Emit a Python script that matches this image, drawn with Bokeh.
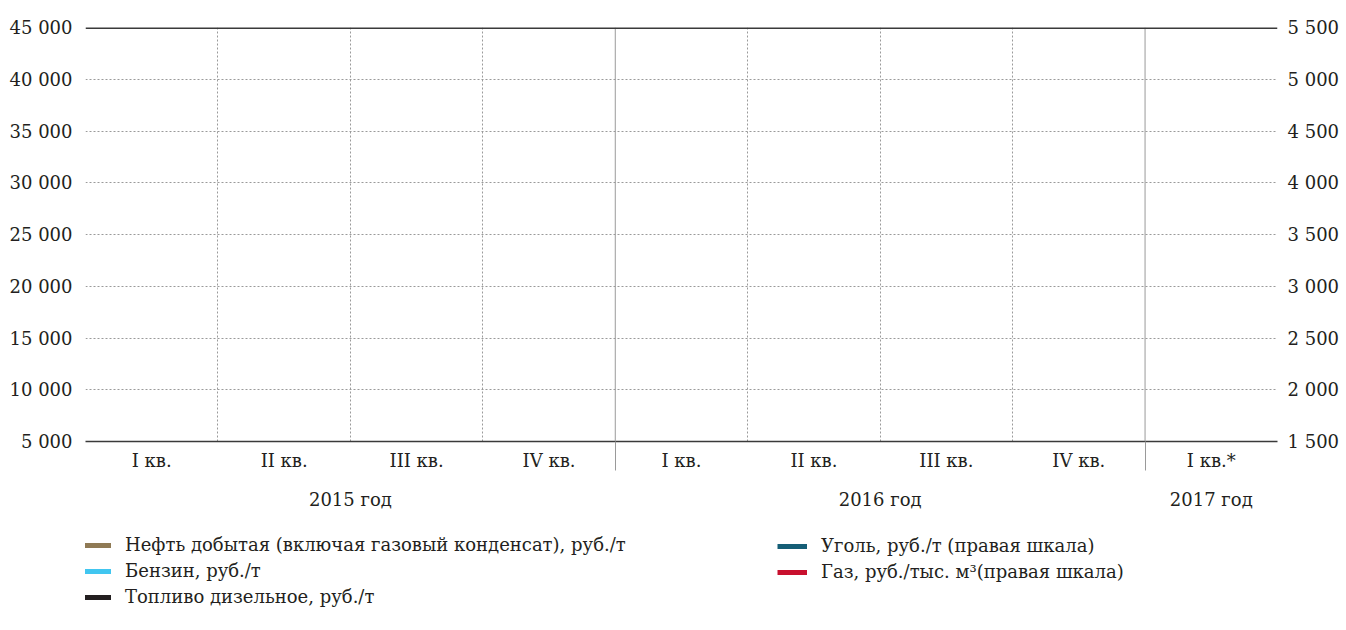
import math
from bokeh.plotting import figure
from bokeh.layouts import column
from bokeh.models import (Range1d, LinearAxis, FixedTicker, Span, Legend, LegendItem)
from bokeh.embed import file_html
from bokeh.resources import INLINE

# ---------------- data ----------------
quarters = ["I кв.", "II кв.", "III кв.", "IV кв.",
            "I кв.", "II кв.", "III кв.", "IV кв.", "I кв.*"]
years = ["2015 год", "2015 год", "2015 год", "2015 год",
         "2016 год", "2016 год", "2016 год", "2016 год", "2017 год"]

left_ticks = [5000, 10000, 15000, 20000, 25000, 30000, 35000, 40000, 45000]
left_labels = ["5 000", "10 000", "15 000", "20 000", "25 000",
               "30 000", "35 000", "40 000", "45 000"]
right_ticks = [1500, 2000, 2500, 3000, 3500, 4000, 4500, 5000, 5500]
right_labels = ["1 500", "2 000", "2 500", "3 000", "3 500",
                "4 000", "4 500", "5 000", "5 500"]

nan = float("nan")
# the reference shows no plotted values for any series
oil = [nan, nan, nan, nan, nan, nan, nan, nan, nan]
petrol = [nan, nan, nan, nan, nan, nan, nan, nan, nan]
diesel = [nan, nan, nan, nan, nan, nan, nan, nan, nan]
coal = [nan, nan, nan, nan, nan, nan, nan, nan, nan]
gas = [nan, nan, nan, nan, nan, nan, nan, nan, nan]

series_left = [
    ("Нефть добытая (включая газовый конденсат), руб./т", oil, "#8f7a55"),
    ("Бензин, руб./т", petrol, "#41c6f0"),
    ("Топливо дизельное, руб./т", diesel, "#231f20"),
]
series_right = [
    ("Уголь, руб./т (правая шкала)", coal, "#155e76"),
    ("Газ, руб./тыс. м³(правая шкала)", gas, "#c8102e"),
]

# ---------------- derived positions ----------------
n = len(quarters)
centers = [i + 0.5 for i in range(n)]
year_bounds = [i for i in range(1, n) if years[i] != years[i - 1]]
inner_bounds = [i for i in range(1, n) if i not in year_bounds]
year_names, year_centers = [], []
start = 0
for i in range(1, n + 1):
    if i == n or years[i] != years[i - 1]:
        year_names.append(years[start])
        year_centers.append((start + i) / 2)
        start = i

FONT = "DejaVu Serif"
FS = "18px"
TXT = "#231f20"
GRID = "#9a9a9a"
DARK = "#3a3a3a"

W, H1, H2 = 1342, 520, 100
p = figure(width=W, height=H1,
           x_range=Range1d(0, n), y_range=Range1d(left_ticks[0], left_ticks[-1]),
           output_backend="svg", toolbar_location=None,
           min_border_left=85, min_border_right=W - 1283,
           min_border_top=27, min_border_bottom=H1 - 441)
p.outline_line_color = None
p.background_fill_color = "white"
p.border_fill_color = "white"
p.extra_y_ranges = {"right": Range1d(right_ticks[0], right_ticks[-1])}

# left axis
ya = p.yaxis[0]
ya.ticker = FixedTicker(ticks=left_ticks)
ya.major_label_overrides = {t: l for t, l in zip(left_ticks, left_labels)}
ya.axis_line_color = None
ya.major_tick_line_color = None
ya.minor_tick_line_color = None
ya.major_tick_out = 0
ya.major_tick_in = 0
ya.major_label_standoff = 13
ya.major_label_text_font = FONT
ya.major_label_text_font_size = FS
ya.major_label_text_color = TXT

# right axis
ra = LinearAxis(y_range_name="right", ticker=FixedTicker(ticks=right_ticks))
ra.major_label_overrides = {t: l for t, l in zip(right_ticks, right_labels)}
ra.axis_line_color = None
ra.major_tick_line_color = None
ra.minor_tick_line_color = None
ra.major_tick_out = 0
ra.major_tick_in = 0
ra.major_label_standoff = 10
ra.major_label_text_font = FONT
ra.major_label_text_font_size = FS
ra.major_label_text_color = TXT
p.add_layout(ra, "right")

# quarter axis
xa = p.xaxis[0]
xa.ticker = FixedTicker(ticks=centers, minor_ticks=year_bounds)
xa.major_label_overrides = {c: q for c, q in zip(centers, quarters)}
xa.major_tick_line_color = None
xa.major_tick_out = 0
xa.major_tick_in = 0
xa.minor_tick_line_color = GRID
xa.minor_tick_line_width = 1
xa.minor_tick_out = 29
xa.minor_tick_in = 0
xa.axis_line_color = DARK
xa.axis_line_width = 1.5
xa.major_label_standoff = -21
xa.major_label_text_font = FONT
xa.major_label_text_font_size = FS
xa.major_label_text_color = TXT

# year axis
ya2 = LinearAxis(ticker=FixedTicker(ticks=year_centers))
ya2.major_label_overrides = {c: y for c, y in zip(year_centers, year_names)}
ya2.axis_line_color = None
ya2.major_tick_line_color = None
ya2.minor_tick_line_color = None
ya2.major_tick_out = 0
ya2.major_tick_in = 0
ya2.major_label_standoff = 15
ya2.major_label_text_font = FONT
ya2.major_label_text_font_size = FS
ya2.major_label_text_color = TXT
p.add_layout(ya2, "below")

# grids
p.ygrid.ticker = FixedTicker(ticks=left_ticks[1:-1])
p.ygrid.grid_line_color = GRID
p.ygrid.grid_line_dash = "2 2"
p.ygrid.grid_line_width = 1
p.xgrid.ticker = FixedTicker(ticks=inner_bounds)
p.xgrid.grid_line_color = GRID
p.xgrid.grid_line_dash = "2 2"
p.xgrid.grid_line_width = 1

for b in year_bounds:
    p.add_layout(Span(location=b, dimension="height", line_color=GRID, line_width=1))
p.add_layout(Span(location=left_ticks[-1], dimension="width", line_color=DARK, line_width=3))

# series on the chart
for name, vals, col in series_left:
    p.line(x=centers, y=vals, line_color=col, line_width=5)
for name, vals, col in series_right:
    p.line(x=centers, y=vals, line_color=col, line_width=5, y_range_name="right")

# ---------------- legend strip ----------------
q = figure(width=W, height=H2, x_range=Range1d(0, n), y_range=Range1d(0, 1),
           output_backend="svg", toolbar_location=None,
           min_border_left=0, min_border_right=0, min_border_top=0, min_border_bottom=0)
q.axis.visible = False
q.grid.visible = False
q.outline_line_color = None


def make_legend(series, loc):
    items = []
    for name, vals, col in series:
        r = q.line(x=centers, y=vals, line_color=col, line_width=5)
        items.append(LegendItem(label=name, renderers=[r]))
    lg = Legend(items=items, location=loc, orientation="vertical")
    lg.padding = 0
    lg.margin = 0
    lg.border_line_color = None
    lg.background_fill_alpha = 0
    lg.glyph_width = 30
    lg.glyph_height = 20
    lg.label_height = 20
    lg.spacing = 5
    lg.label_standoff = 14
    lg.label_text_font = FONT
    lg.label_text_font_size = FS
    lg.label_text_color = TXT
    return lg


q.add_layout(make_legend(series_left, (-4, 13)))
q.add_layout(make_legend(series_right, (692, 38)))

layout = column(p, q, spacing=0)
open("out.html", "w").write(file_html(layout, INLINE))
